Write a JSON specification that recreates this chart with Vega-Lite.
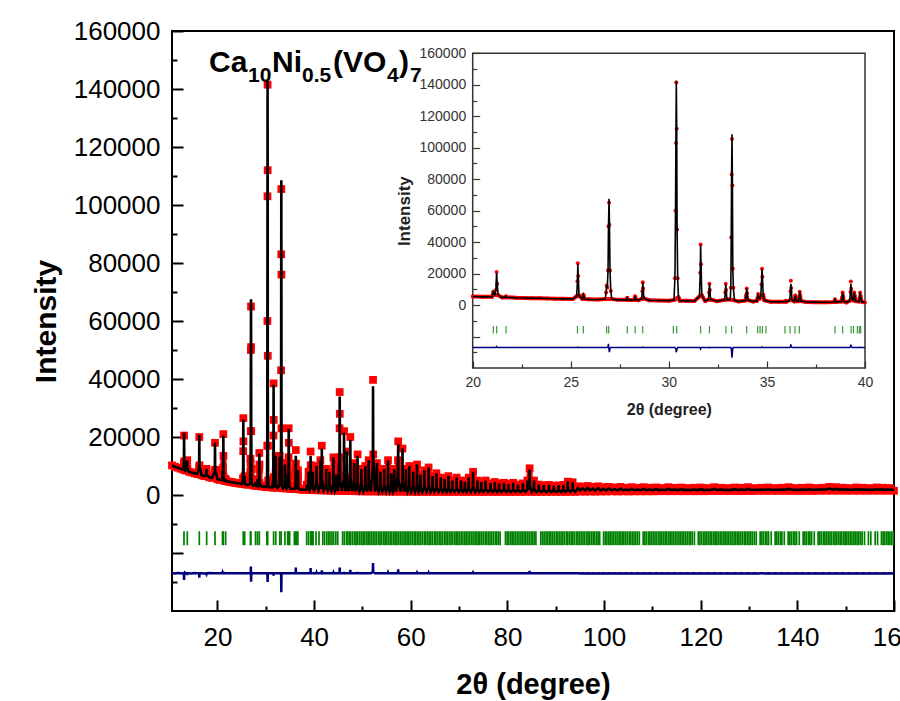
{
  "$schema": "https://vega.github.io/schema/vega-lite/v6.json",
  "width": 722,
  "height": 580,
  "autosize": {"type": "none"},
  "padding": {"left": 172, "top": 31, "right": 6, "bottom": 90},
  "background": "white",
  "config": {
    "view": {"stroke": "black", "strokeWidth": 2},
    "font": "Liberation Sans",
    "axis": {"grid": false}
  },
  "datasets": {
    "xrd": [
      {"t":10.6,"o":10200,"c":10200,"d":-27000},{"t":11.2,"o":9750,"c":9750,"d":-27100},{"t":11.8,"o":9420,"c":9420,"d":-26900},{"t":12.4,"o":9060,"c":9060,"d":-27000},{"t":13.0,"o":8700,"c":8700,"d":-27100},
      {"t":13.06,"o":11000,"c":11000,"d":-27000},{"t":13.1,"o":20500,"c":21500,"d":-29300},{"t":13.14,"o":11600,"c":11600,"d":-27000},{"t":13.4,"o":8460,"c":8460,"d":-26900},
      {"t":13.71,"o":9000,"c":9000,"d":-27000},{"t":13.75,"o":12000,"c":12000,"d":-27600},{"t":13.79,"o":9200,"c":9200,"d":-27000},{"t":14.1,"o":8050,"c":8050,"d":-27000},{"t":14.6,"o":7800,"c":7800,"d":-27100},{"t":15.2,"o":7500,"c":7500,"d":-26900},{"t":15.8,"o":7200,"c":7200,"d":-27000},
      {"t":16.21,"o":9600,"c":9600,"d":-27000},{"t":16.25,"o":20000,"c":20800,"d":-28500},{"t":16.29,"o":10250,"c":10250,"d":-27000},{"t":16.7,"o":6800,"c":6800,"d":-27000},{"t":17.3,"o":6520,"c":6520,"d":-27100},
      {"t":17.71,"o":6850,"c":6850,"d":-27000},{"t":17.75,"o":9000,"c":9000,"d":-27200},{"t":17.79,"o":7000,"c":7000,"d":-27000},{"t":18.3,"o":6100,"c":6100,"d":-26900},{"t":18.9,"o":5850,"c":5850,"d":-27000},
      {"t":19.46,"o":8100,"c":8100,"d":-27000},{"t":19.5,"o":18000,"c":18000,"d":-26600},{"t":19.54,"o":8700,"c":8700,"d":-27000},{"t":20.0,"o":5400,"c":5400,"d":-27000},
      {"t":20.5,"o":5220,"c":5220,"d":-27000},{"t":20.99,"o":5300,"c":5300,"d":-27000},{"t":21.03,"o":6800,"c":6800,"d":-26900},{"t":21.05,"o":8500,"c":8300,"d":-26800},{"t":21.08,"o":7400,"c":7400,"d":-27000},{"t":21.13,"o":6600,"c":6600,"d":-27000},
      {"t":21.18,"o":9500,"c":9500,"d":-27000},{"t":21.22,"o":21000,"c":20500,"d":-26400},{"t":21.25,"o":13500,"c":13500,"d":-27000},{"t":21.3,"o":6200,"c":6200,"d":-27000},{"t":21.5,"o":4870,"c":4870,"d":-27000},
      {"t":21.66,"o":4900,"c":4900,"d":-27000},{"t":21.7,"o":5500,"c":5500,"d":-27000},{"t":21.74,"o":4950,"c":4950,"d":-27000},{"t":22.2,"o":4640,"c":4640,"d":-27000},{"t":22.6,"o":4520,"c":4520,"d":-27000},{"t":23.0,"o":4400,"c":4400,"d":-27000},{"t":23.4,"o":4280,"c":4280,"d":-27000},{"t":23.8,"o":4160,"c":4160,"d":-27000},{"t":24.2,"o":4050,"c":4050,"d":-27000},{"t":24.6,"o":3950,"c":3950,"d":-27000},{"t":25.1,"o":3820,"c":3820,"d":-27000},
      {"t":25.3,"o":5600,"c":5600,"d":-27000},{"t":25.34,"o":15100,"c":15100,"d":-27000},{"t":25.36,"o":26500,"c":26000,"d":-26700},{"t":25.38,"o":18500,"c":18500,"d":-27000},{"t":25.42,"o":6000,"c":6000,"d":-27000},
      {"t":25.59,"o":3900,"c":3900,"d":-27000},{"t":25.62,"o":5100,"c":5100,"d":-27000},{"t":25.64,"o":6500,"c":6500,"d":-27000},{"t":25.66,"o":5800,"c":5800,"d":-27000},{"t":25.7,"o":3900,"c":3900,"d":-27000},{"t":25.9,"o":3620,"c":3620,"d":-27000},{"t":26.4,"o":3510,"c":3510,"d":-27000},
      {"t":26.76,"o":3900,"c":3900,"d":-27000},{"t":26.8,"o":8000,"c":8000,"d":-27000},{"t":26.83,"o":12500,"c":12500,"d":-27000},{"t":26.86,"o":11000,"c":11000,"d":-27000},{"t":26.9,"o":22000,"c":22000,"d":-26500},{"t":26.92,"o":50000,"c":47000,"d":-24700},
      {"t":26.95,"o":65000,"c":67500,"d":-28500},{"t":26.97,"o":51000,"c":54000,"d":-29900},{"t":27.0,"o":22000,"c":22000,"d":-27500},{"t":27.04,"o":9000,"c":9000,"d":-27000},{"t":27.09,"o":3800,"c":3800,"d":-27000},{"t":27.4,"o":3300,"c":3300,"d":-27000},
      {"t":27.84,"o":3300,"c":3300,"d":-27000},{"t":27.88,"o":4500,"c":4500,"d":-27000},{"t":27.92,"o":3350,"c":3350,"d":-27000},{"t":28.05,"o":3140,"c":3140,"d":-27000},{"t":28.24,"o":3300,"c":3300,"d":-27000},{"t":28.28,"o":5500,"c":5500,"d":-27000},{"t":28.32,"o":3400,"c":3400,"d":-27000},{"t":28.45,"o":3070,"c":3070,"d":-27000},
      {"t":28.61,"o":3960,"c":3960,"d":-27000},{"t":28.65,"o":8800,"c":8800,"d":-27000},{"t":28.67,"o":14500,"c":14200,"d":-26700},{"t":28.69,"o":10500,"c":10500,"d":-27000},{"t":28.73,"o":4200,"c":4200,"d":-27000},{"t":29.0,"o":2980,"c":2980,"d":-27000},{"t":29.5,"o":2890,"c":2890,"d":-27000},{"t":30.0,"o":2800,"c":2800,"d":-27000},
      {"t":30.26,"o":3200,"c":3200,"d":-27000},{"t":30.31,"o":17000,"c":17000,"d":-27000},{"t":30.34,"o":60000,"c":60000,"d":-27500},{"t":30.36,"o":103000,"c":104000,"d":-28200},{"t":30.38,"o":141500,"c":142500,"d":-30000},{"t":30.4,"o":112000,"c":113000,"d":-29000},
      {"t":30.42,"o":48000,"c":48000,"d":-27800},{"t":30.45,"o":17000,"c":17000,"d":-27000},{"t":30.49,"o":5000,"c":5000,"d":-27000},{"t":30.55,"o":2750,"c":2750,"d":-27000},{"t":30.9,"o":2660,"c":2660,"d":-27000},{"t":31.3,"o":2600,"c":2600,"d":-27000},
      {"t":31.56,"o":5400,"c":5400,"d":-27000},{"t":31.6,"o":20500,"c":20500,"d":-27200},{"t":31.62,"o":38500,"c":38000,"d":-27800},{"t":31.64,"o":25900,"c":25900,"d":-27000},{"t":31.68,"o":6150,"c":6150,"d":-27000},{"t":31.85,"o":2520,"c":2520,"d":-27000},
      {"t":32.01,"o":3370,"c":3370,"d":-27000},{"t":32.05,"o":8000,"c":8000,"d":-27000},{"t":32.07,"o":13500,"c":13500,"d":-27200},{"t":32.09,"o":9650,"c":9650,"d":-27000},{"t":32.13,"o":3590,"c":3590,"d":-27000},{"t":32.45,"o":2450,"c":2450,"d":-27000},
      {"t":32.84,"o":3280,"c":3280,"d":-27000},{"t":32.88,"o":7950,"c":7950,"d":-27000},{"t":32.9,"o":13500,"c":13200,"d":-27000},{"t":32.92,"o":9600,"c":9600,"d":-27000},{"t":32.96,"o":3500,"c":3500,"d":-27000},
      {"t":33.13,"o":3500,"c":3500,"d":-27000},{"t":33.16,"o":11000,"c":11000,"d":-27000},{"t":33.18,"o":43000,"c":43000,"d":-27500},{"t":33.2,"o":83000,"c":85000,"d":-30500},{"t":33.22,"o":105500,"c":108500,"d":-33500},{"t":33.24,"o":76000,"c":78000,"d":-30000},
      {"t":33.26,"o":23000,"c":23000,"d":-27500},{"t":33.29,"o":11000,"c":11000,"d":-27000},{"t":33.34,"o":3000,"c":3000,"d":-27000},{"t":33.55,"o":2320,"c":2320,"d":-27000},
      {"t":33.91,"o":2900,"c":2900,"d":-27000},{"t":33.95,"o":6400,"c":6400,"d":-27000},{"t":33.97,"o":10500,"c":10500,"d":-27000},{"t":33.99,"o":7600,"c":7600,"d":-27000},{"t":34.03,"o":3100,"c":3100,"d":-27000},{"t":34.3,"o":2210,"c":2210,"d":-27000},
      {"t":34.5,"o":2700,"c":2700,"d":-27000},{"t":34.53,"o":5000,"c":5000,"d":-27000},{"t":34.55,"o":7000,"c":7000,"d":-27000},{"t":34.58,"o":5000,"c":5000,"d":-27000},{"t":34.63,"o":4000,"c":4000,"d":-27000},
      {"t":34.68,"o":5000,"c":5000,"d":-27000},{"t":34.72,"o":13000,"c":13000,"d":-27000},{"t":34.75,"o":23000,"c":22800,"d":-26600},{"t":34.77,"o":18000,"c":18000,"d":-27000},{"t":34.81,"o":6500,"c":6500,"d":-27000},{"t":34.86,"o":3000,"c":3000,"d":-27000},
      {"t":35.2,"o":2100,"c":2100,"d":-27000},{"t":35.6,"o":2050,"c":2050,"d":-27000},{"t":35.91,"o":2100,"c":2100,"d":-27000},{"t":35.95,"o":2600,"c":2600,"d":-27000},{"t":35.99,"o":2100,"c":2100,"d":-27000},
      {"t":36.16,"o":3060,"c":3060,"d":-27000},{"t":36.2,"o":8700,"c":8700,"d":-26500},{"t":36.22,"o":15500,"c":13500,"d":-25000},{"t":36.24,"o":10800,"c":10800,"d":-26500},{"t":36.28,"o":3300,"c":3300,"d":-27000},
      {"t":36.39,"o":2300,"c":2300,"d":-27000},{"t":36.43,"o":4000,"c":4000,"d":-27000},{"t":36.45,"o":6000,"c":6000,"d":-27000},{"t":36.47,"o":4600,"c":4600,"d":-27000},{"t":36.51,"o":2400,"c":2400,"d":-27000},
      {"t":36.61,"o":2450,"c":2450,"d":-27000},{"t":36.65,"o":5200,"c":5200,"d":-27000},{"t":36.67,"o":8500,"c":8500,"d":-27000},{"t":36.69,"o":6200,"c":6200,"d":-27000},{"t":36.73,"o":2600,"c":2600,"d":-27000},
      {"t":37.0,"o":1900,"c":1900,"d":-27000},{"t":37.5,"o":1850,"c":1850,"d":-27000},{"t":38.0,"o":1800,"c":1800,"d":-27000},{"t":38.43,"o":1900,"c":1900,"d":-27000},{"t":38.47,"o":3500,"c":3500,"d":-27000},{"t":38.51,"o":2000,"c":2000,"d":-27000},
      {"t":38.8,"o":2200,"c":2200,"d":-27000},{"t":38.84,"o":4900,"c":4900,"d":-27000},{"t":38.86,"o":8000,"c":8000,"d":-27000},{"t":38.88,"o":5800,"c":5800,"d":-27000},{"t":38.92,"o":2300,"c":2300,"d":-27000},{"t":39.05,"o":1700,"c":1700,"d":-27000},
      {"t":39.22,"o":2700,"c":2700,"d":-27000},{"t":39.26,"o":8300,"c":8300,"d":-26600},{"t":39.28,"o":15000,"c":13500,"d":-25200},{"t":39.3,"o":10300,"c":10300,"d":-26500},{"t":39.34,"o":3500,"c":3500,"d":-27000},
      {"t":39.39,"o":3000,"c":3000,"d":-27000},{"t":39.43,"o":5000,"c":5000,"d":-27000},{"t":39.45,"o":8000,"c":8000,"d":-27000},{"t":39.47,"o":6000,"c":6000,"d":-27000},{"t":39.52,"o":2500,"c":2500,"d":-27000},
      {"t":39.69,"o":2200,"c":2200,"d":-27000},{"t":39.73,"o":4800,"c":4800,"d":-27000},{"t":39.75,"o":8000,"c":8000,"d":-26800},{"t":39.77,"o":5800,"c":5800,"d":-27000},{"t":39.82,"o":2200,"c":2200,"d":-27000},{"t":40.0,"o":1650,"c":1650,"d":-27000},
      {"t":40.46,"o":3300,"c":3300,"d":-27000},{"t":40.5,"o":10000,"c":10000,"d":-26800},{"t":40.54,"o":3700,"c":3700,"d":-27000},{"t":40.9,"o":1610,"c":1610,"d":-27000},
      {"t":41.26,"o":3600,"c":3600,"d":-27000},{"t":41.3,"o":12000,"c":12000,"d":-27000},{"t":41.34,"o":4200,"c":4200,"d":-27000},{"t":41.45,"o":2000,"c":2000,"d":-27000},
      {"t":41.56,"o":4600,"c":4600,"d":-27000},{"t":41.6,"o":17000,"c":16000,"d":-26000},{"t":41.64,"o":5400,"c":5400,"d":-27000},{"t":42.0,"o":1550,"c":1550,"d":-27000},
      {"t":42.46,"o":3000,"c":3000,"d":-27000},{"t":42.5,"o":9000,"c":9000,"d":-27000},{"t":42.54,"o":3400,"c":3400,"d":-27000},{"t":42.85,"o":1500,"c":1500,"d":-27000},
      {"t":43.16,"o":2800,"c":2800,"d":-27000},{"t":43.2,"o":8000,"c":8000,"d":-27000},{"t":43.24,"o":3100,"c":3100,"d":-27000},{"t":43.6,"o":1470,"c":1470,"d":-27000},
      {"t":43.96,"o":3700,"c":3700,"d":-27000},{"t":44.0,"o":13000,"c":13000,"d":-26800},{"t":44.04,"o":4300,"c":4300,"d":-27000},{"t":44.3,"o":1440,"c":1440,"d":-27000},
      {"t":44.56,"o":2500,"c":2500,"d":-27000},{"t":44.6,"o":7000,"c":7000,"d":-27000},{"t":44.64,"o":2800,"c":2800,"d":-27000},{"t":44.95,"o":1420,"c":1420,"d":-27000},
      {"t":45.25,"o":13000,"c":13000,"d":-27000},{"t":45.28,"o":23000,"c":23000,"d":-26500},{"t":45.3,"o":35500,"c":34000,"d":-25000},{"t":45.32,"o":28000,"c":28000,"d":-26500},{"t":45.36,"o":5000,"c":5000,"d":-27000},{"t":45.75,"o":1390,"c":1390,"d":-27000},
      {"t":46.16,"o":5500,"c":5500,"d":-27000},{"t":46.2,"o":22000,"c":21500,"d":-26500},{"t":46.24,"o":6500,"c":6500,"d":-27000},{"t":46.5,"o":1370,"c":1370,"d":-27000},
      {"t":46.76,"o":4000,"c":4000,"d":-27000},{"t":46.8,"o":15000,"c":15000,"d":-27000},{"t":46.84,"o":4700,"c":4700,"d":-27000},{"t":47.15,"o":1350,"c":1350,"d":-27000},
      {"t":47.46,"o":5000,"c":5000,"d":-27000},{"t":47.5,"o":20000,"c":19000,"d":-25800},{"t":47.54,"o":6000,"c":6000,"d":-27000},{"t":47.9,"o":1330,"c":1330,"d":-27000},
      {"t":48.26,"o":3200,"c":3200,"d":-27000},{"t":48.3,"o":11000,"c":11000,"d":-27000},{"t":48.34,"o":3700,"c":3700,"d":-27000},{"t":48.65,"o":1300,"c":1300,"d":-27000},
      {"t":48.96,"o":3800,"c":3800,"d":-27000},{"t":49.0,"o":14000,"c":13500,"d":-26500},{"t":49.04,"o":4400,"c":4400,"d":-27000},{"t":49.4,"o":1280,"c":1280,"d":-27000},
      {"t":49.76,"o":2800,"c":2800,"d":-27000},{"t":49.8,"o":9000,"c":9000,"d":-27000},{"t":49.84,"o":3200,"c":3200,"d":-27000},{"t":50.2,"o":1250,"c":1250,"d":-27000},
      {"t":50.56,"o":3000,"c":3000,"d":-27000},{"t":50.6,"o":10000,"c":10000,"d":-27000},{"t":50.64,"o":3400,"c":3400,"d":-27000},{"t":50.95,"o":1240,"c":1240,"d":-27000},
      {"t":51.26,"o":3400,"c":3400,"d":-27000},{"t":51.3,"o":12000,"c":12000,"d":-27000},{"t":51.34,"o":3900,"c":3900,"d":-27000},{"t":51.75,"o":1230,"c":1230,"d":-27000},
      {"t":52.16,"o":10000,"c":10000,"d":-26500},{"t":52.2,"o":39700,"c":37500,"d":-23500},{"t":52.24,"o":14000,"c":14000,"d":-26500},{"t":52.6,"o":1220,"c":1220,"d":-27000},
      {"t":52.96,"o":3200,"c":3200,"d":-27000},{"t":53.0,"o":11000,"c":11000,"d":-27000},{"t":53.04,"o":3700,"c":3700,"d":-27000},{"t":53.35,"o":1210,"c":1210,"d":-27000},
      {"t":53.66,"o":2600,"c":2600,"d":-27000},{"t":53.7,"o":8000,"c":8000,"d":-27000},{"t":53.74,"o":2900,"c":2900,"d":-27000},{"t":54.1,"o":1200,"c":1200,"d":-27000},
      {"t":54.46,"o":2800,"c":2800,"d":-27000},{"t":54.5,"o":9000,"c":9000,"d":-27000},{"t":54.54,"o":3200,"c":3200,"d":-27000},{"t":54.9,"o":1190,"c":1190,"d":-27000},
      {"t":55.26,"o":3300,"c":3300,"d":-27000},{"t":55.3,"o":12000,"c":12000,"d":-26800},{"t":55.34,"o":3900,"c":3900,"d":-27000},{"t":55.65,"o":1180,"c":1180,"d":-27000},
      {"t":55.96,"o":2400,"c":2400,"d":-27000},{"t":56.0,"o":7500,"c":7500,"d":-27000},{"t":56.04,"o":2800,"c":2800,"d":-27000},{"t":56.3,"o":1170,"c":1170,"d":-27000},
      {"t":56.56,"o":2700,"c":2700,"d":-27000},{"t":56.6,"o":9000,"c":9000,"d":-27000},{"t":56.64,"o":3100,"c":3100,"d":-27000},{"t":57.0,"o":1160,"c":1160,"d":-27000},
      {"t":57.34,"o":8000,"c":8000,"d":-27000},{"t":57.37,"o":12000,"c":12000,"d":-26800},{"t":57.4,"o":18500,"c":17500,"d":-25600},{"t":57.44,"o":5500,"c":5500,"d":-27000},{"t":57.85,"o":1150,"c":1150,"d":-27000},
      {"t":58.26,"o":4100,"c":4100,"d":-27000},{"t":58.3,"o":16000,"c":16000,"d":-26700},{"t":58.34,"o":4800,"c":4800,"d":-27000},{"t":58.65,"o":1140,"c":1140,"d":-27000},
      {"t":58.96,"o":2700,"c":2700,"d":-27000},{"t":59.0,"o":9000,"c":9000,"d":-27000},{"t":59.04,"o":3100,"c":3100,"d":-27000},{"t":59.35,"o":1130,"c":1130,"d":-27000},
      {"t":59.66,"o":2900,"c":2900,"d":-27000},{"t":59.7,"o":10000,"c":10000,"d":-27000},{"t":59.74,"o":3300,"c":3300,"d":-27000},{"t":60.1,"o":1100,"c":1100,"d":-27000},
      {"t":60.45,"o":2500,"c":2500,"d":-27000},{"t":60.5,"o":8000,"c":8000,"d":-27000},{"t":60.55,"o":2800,"c":2800,"d":-27000},{"t":60.9,"o":1100,"c":1100,"d":-27000},
      {"t":61.25,"o":3000,"c":3000,"d":-27000},{"t":61.3,"o":10500,"c":10500,"d":-26800},{"t":61.35,"o":3400,"c":3400,"d":-27000},{"t":61.65,"o":1100,"c":1100,"d":-27000},
      {"t":61.95,"o":2300,"c":2300,"d":-27000},{"t":62.0,"o":7000,"c":7000,"d":-27000},{"t":62.05,"o":2600,"c":2600,"d":-27000},{"t":62.4,"o":1100,"c":1100,"d":-27000},
      {"t":62.75,"o":2600,"c":2600,"d":-27000},{"t":62.8,"o":8500,"c":8500,"d":-27000},{"t":62.85,"o":2900,"c":2900,"d":-27000},{"t":63.25,"o":1095,"c":1095,"d":-27000},
      {"t":63.65,"o":2800,"c":2800,"d":-27000},{"t":63.7,"o":9500,"c":9500,"d":-26800},{"t":63.75,"o":3200,"c":3200,"d":-27000},{"t":64.1,"o":1095,"c":1095,"d":-27000},
      {"t":64.45,"o":2200,"c":2200,"d":-27000},{"t":64.5,"o":6500,"c":6500,"d":-27000},{"t":64.55,"o":2400,"c":2400,"d":-27000},{"t":64.9,"o":1090,"c":1090,"d":-27000},
      {"t":65.25,"o":2400,"c":2400,"d":-27000},{"t":65.3,"o":7500,"c":7500,"d":-27000},{"t":65.35,"o":2700,"c":2700,"d":-27000},{"t":65.75,"o":1090,"c":1090,"d":-27000},
      {"t":66.15,"o":2100,"c":2100,"d":-27000},{"t":66.2,"o":6000,"c":6000,"d":-27000},{"t":66.25,"o":2300,"c":2300,"d":-27000},{"t":66.6,"o":1085,"c":1085,"d":-27000},
      {"t":66.95,"o":2000,"c":2000,"d":-27000},{"t":67.0,"o":5500,"c":5500,"d":-27000},{"t":67.05,"o":2200,"c":2200,"d":-27000},{"t":67.4,"o":1085,"c":1085,"d":-27000},
      {"t":67.75,"o":2200,"c":2200,"d":-27000},{"t":67.8,"o":6500,"c":6500,"d":-27000},{"t":67.85,"o":2400,"c":2400,"d":-27000},{"t":68.2,"o":1080,"c":1080,"d":-27000},
      {"t":68.55,"o":1900,"c":1900,"d":-27000},{"t":68.6,"o":5000,"c":5000,"d":-27000},{"t":68.65,"o":2100,"c":2100,"d":-27000},{"t":69.05,"o":1080,"c":1080,"d":-27000},
      {"t":69.45,"o":2100,"c":2100,"d":-27000},{"t":69.5,"o":6000,"c":6000,"d":-27000},{"t":69.55,"o":2300,"c":2300,"d":-27000},{"t":69.95,"o":1075,"c":1075,"d":-27000},
      {"t":70.35,"o":1900,"c":1900,"d":-27000},{"t":70.4,"o":5000,"c":5000,"d":-27000},{"t":70.45,"o":2100,"c":2100,"d":-27000},{"t":70.8,"o":1070,"c":1070,"d":-27000},
      {"t":71.15,"o":1800,"c":1800,"d":-27000},{"t":71.2,"o":4500,"c":4500,"d":-27000},{"t":71.25,"o":1900,"c":1900,"d":-27000},{"t":71.6,"o":1070,"c":1070,"d":-27000},
      {"t":71.95,"o":2100,"c":2100,"d":-27000},{"t":72.0,"o":6000,"c":6000,"d":-27000},{"t":72.05,"o":2300,"c":2300,"d":-27000},{"t":72.45,"o":1065,"c":1065,"d":-27000},
      {"t":72.85,"o":2500,"c":2500,"d":-27000},{"t":72.9,"o":8000,"c":8000,"d":-26800},{"t":72.95,"o":2800,"c":2800,"d":-27000},{"t":73.35,"o":1065,"c":1065,"d":-27000},
      {"t":73.75,"o":1900,"c":1900,"d":-27000},{"t":73.8,"o":5000,"c":5000,"d":-27000},{"t":73.85,"o":2100,"c":2100,"d":-27000},{"t":74.2,"o":1060,"c":1060,"d":-27000},
      {"t":74.55,"o":1800,"c":1800,"d":-27000},{"t":74.6,"o":4500,"c":4500,"d":-27000},{"t":74.65,"o":1900,"c":1900,"d":-27000},{"t":75.05,"o":1060,"c":1060,"d":-27000},
      {"t":75.45,"o":1900,"c":1900,"d":-27000},{"t":75.5,"o":5000,"c":5000,"d":-27000},{"t":75.55,"o":2100,"c":2100,"d":-27000},{"t":76.0,"o":1060,"c":1060,"d":-27000},
      {"t":76.45,"o":1700,"c":1700,"d":-27000},{"t":76.5,"o":4000,"c":4000,"d":-27000},{"t":76.55,"o":1800,"c":1800,"d":-27000},{"t":76.95,"o":1055,"c":1055,"d":-27000},
      {"t":77.35,"o":1800,"c":1800,"d":-27000},{"t":77.4,"o":4500,"c":4500,"d":-27000},{"t":77.45,"o":1900,"c":1900,"d":-27000},{"t":77.85,"o":1055,"c":1055,"d":-27000},
      {"t":78.25,"o":1700,"c":1700,"d":-27000},{"t":78.3,"o":4000,"c":4000,"d":-27000},{"t":78.35,"o":1800,"c":1800,"d":-27000},{"t":78.8,"o":1050,"c":1050,"d":-27000},
      {"t":79.25,"o":1700,"c":1700,"d":-27000},{"t":79.3,"o":4200,"c":4200,"d":-27000},{"t":79.35,"o":1900,"c":1900,"d":-27000},{"t":79.75,"o":1050,"c":1050,"d":-27000},
      {"t":80.15,"o":1600,"c":1600,"d":-27000},{"t":80.2,"o":3800,"c":3800,"d":-27000},{"t":80.25,"o":1700,"c":1700,"d":-27000},{"t":80.7,"o":1050,"c":1050,"d":-27000},
      {"t":81.15,"o":1700,"c":1700,"d":-27000},{"t":81.2,"o":4200,"c":4200,"d":-27000},{"t":81.25,"o":1900,"c":1900,"d":-27000},{"t":81.7,"o":1050,"c":1050,"d":-27000},
      {"t":82.15,"o":1600,"c":1600,"d":-27000},{"t":82.2,"o":3600,"c":3600,"d":-27000},{"t":82.25,"o":1700,"c":1700,"d":-27000},{"t":82.7,"o":1050,"c":1050,"d":-27000},
      {"t":83.15,"o":1600,"c":1600,"d":-27000},{"t":83.2,"o":4000,"c":4000,"d":-27000},{"t":83.25,"o":1800,"c":1800,"d":-27000},{"t":83.7,"o":1050,"c":1050,"d":-27000},
      {"t":84.1,"o":1800,"c":1800,"d":-27000},{"t":84.15,"o":5000,"c":5000,"d":-27000},{"t":84.2,"o":2000,"c":2000,"d":-27000},
      {"t":84.55,"o":2700,"c":2700,"d":-27000},{"t":84.6,"o":9200,"c":8800,"d":-26200},{"t":84.65,"o":3100,"c":3100,"d":-27000},{"t":85.05,"o":1050,"c":1050,"d":-27000},
      {"t":85.45,"o":1900,"c":1900,"d":-27000},{"t":85.5,"o":5000,"c":5000,"d":-27000},{"t":85.55,"o":2000,"c":2000,"d":-27000},{"t":86.0,"o":1055,"c":1055,"d":-27000},
      {"t":86.45,"o":1600,"c":1600,"d":-27000},{"t":86.5,"o":3600,"c":3600,"d":-27000},{"t":86.55,"o":1700,"c":1700,"d":-27000},{"t":87.0,"o":1055,"c":1055,"d":-27000},
      {"t":87.45,"o":1500,"c":1500,"d":-27000},{"t":87.5,"o":3400,"c":3400,"d":-27000},{"t":87.55,"o":1600,"c":1600,"d":-27000},{"t":88.05,"o":1060,"c":1060,"d":-27000},
      {"t":88.55,"o":1600,"c":1600,"d":-27000},{"t":88.6,"o":3500,"c":3500,"d":-27000},{"t":88.65,"o":1600,"c":1600,"d":-27000},{"t":89.1,"o":1060,"c":1060,"d":-27000},
      {"t":89.55,"o":1500,"c":1500,"d":-27000},{"t":89.6,"o":3200,"c":3200,"d":-27000},{"t":89.65,"o":1500,"c":1500,"d":-27000},{"t":90.1,"o":1065,"c":1065,"d":-27000},
      {"t":90.55,"o":1500,"c":1500,"d":-27000},{"t":90.6,"o":3300,"c":3300,"d":-27000},{"t":90.65,"o":1600,"c":1600,"d":-27000},{"t":91.1,"o":1065,"c":1065,"d":-27000},
      {"t":91.55,"o":1600,"c":1600,"d":-27000},{"t":91.6,"o":3500,"c":3500,"d":-27000},{"t":91.65,"o":1600,"c":1600,"d":-27000},{"t":92.05,"o":1070,"c":1070,"d":-27000},
      {"t":92.45,"o":1800,"c":1800,"d":-27000},{"t":92.5,"o":4600,"c":4600,"d":-27000},{"t":92.55,"o":1900,"c":1900,"d":-27000},{"t":93.0,"o":1070,"c":1070,"d":-27000},
      {"t":93.45,"o":1800,"c":1800,"d":-27000},{"t":93.5,"o":4400,"c":4400,"d":-27000},{"t":93.55,"o":1900,"c":1900,"d":-27000},{"t":94.05,"o":1075,"c":1075,"d":-27000},
      {"t":94.6,"o":3000,"c":2400,"d":-26950},{"t":95.0,"o":1200,"c":1600,"d":-27050},{"t":95.6,"o":2900,"c":2300,"d":-26950},{"t":96.1,"o":1150,"c":1550,"d":-27050},{"t":96.6,"o":3100,"c":2500,"d":-26950},{"t":97.1,"o":1200,"c":1600,"d":-27050},
      {"t":97.7,"o":2800,"c":2200,"d":-26950},{"t":98.2,"o":1150,"c":1550,"d":-27050},{"t":98.8,"o":3000,"c":2400,"d":-26950},{"t":99.3,"o":1200,"c":1600,"d":-27050},{"t":99.9,"o":2700,"c":2100,"d":-26950},{"t":100.4,"o":1200,"c":1600,"d":-27050},
      {"t":101.0,"o":2800,"c":2200,"d":-26950},{"t":101.6,"o":1250,"c":1650,"d":-27050},{"t":102.2,"o":2600,"c":2000,"d":-26950},{"t":102.8,"o":1200,"c":1600,"d":-27050},{"t":103.4,"o":2800,"c":2200,"d":-26950},{"t":103.9,"o":1250,"c":1650,"d":-27050},
      {"t":104.5,"o":2500,"c":1900,"d":-26950},{"t":105.1,"o":1200,"c":1600,"d":-27050},{"t":105.7,"o":2700,"c":2100,"d":-26950},{"t":106.3,"o":1250,"c":1650,"d":-27050},{"t":107.0,"o":2500,"c":1900,"d":-26950},{"t":107.6,"o":1250,"c":1650,"d":-27050},
      {"t":108.2,"o":2700,"c":2100,"d":-26950},{"t":108.8,"o":1250,"c":1650,"d":-27050},{"t":109.5,"o":2500,"c":1900,"d":-26950},{"t":110.1,"o":1250,"c":1650,"d":-27050},{"t":110.8,"o":2600,"c":2000,"d":-26950},{"t":111.4,"o":1300,"c":1700,"d":-27050},
      {"t":112.0,"o":2400,"c":1800,"d":-26950},{"t":112.7,"o":1300,"c":1700,"d":-27050},{"t":113.3,"o":2700,"c":2100,"d":-26950},{"t":113.9,"o":1300,"c":1700,"d":-27050},{"t":114.6,"o":2500,"c":1900,"d":-26950},{"t":115.3,"o":1300,"c":1700,"d":-27050},
      {"t":116.0,"o":2600,"c":2000,"d":-26950},{"t":116.6,"o":1300,"c":1700,"d":-27050},{"t":117.3,"o":2400,"c":1800,"d":-26950},{"t":117.9,"o":1300,"c":1700,"d":-27050},{"t":118.6,"o":2500,"c":1900,"d":-26950},{"t":119.3,"o":1300,"c":1700,"d":-27050},
      {"t":120.0,"o":2600,"c":2000,"d":-26950},{"t":120.7,"o":1300,"c":1700,"d":-27050},{"t":121.4,"o":2400,"c":1800,"d":-26950},{"t":122.1,"o":1350,"c":1750,"d":-27050},{"t":122.8,"o":2700,"c":2100,"d":-26950},{"t":123.5,"o":1350,"c":1750,"d":-27050},
      {"t":124.2,"o":2500,"c":1900,"d":-26950},{"t":124.9,"o":1350,"c":1750,"d":-27050},{"t":125.6,"o":2400,"c":1800,"d":-26950},{"t":126.3,"o":1350,"c":1750,"d":-27050},{"t":127.0,"o":2600,"c":2000,"d":-26950},{"t":127.7,"o":1350,"c":1750,"d":-27050},
      {"t":128.4,"o":2500,"c":1900,"d":-26950},{"t":129.1,"o":1350,"c":1750,"d":-27050},{"t":129.8,"o":2700,"c":2100,"d":-26950},{"t":130.5,"o":1350,"c":1750,"d":-27050},{"t":131.2,"o":2400,"c":1800,"d":-26950},{"t":131.9,"o":1400,"c":1800,"d":-27050},
      {"t":132.6,"o":2500,"c":1900,"d":-26950},{"t":133.3,"o":1400,"c":1800,"d":-27050},{"t":134.0,"o":2600,"c":2000,"d":-26950},{"t":134.7,"o":1400,"c":1800,"d":-27050},{"t":135.4,"o":2400,"c":1800,"d":-26950},{"t":136.1,"o":1400,"c":1800,"d":-27050},
      {"t":136.8,"o":2500,"c":1900,"d":-26950},{"t":137.5,"o":1400,"c":1800,"d":-27050},{"t":138.2,"o":2700,"c":2100,"d":-26950},{"t":138.9,"o":1400,"c":1800,"d":-27050},{"t":139.6,"o":2400,"c":1800,"d":-26950},{"t":140.3,"o":1400,"c":1800,"d":-27050},
      {"t":141.0,"o":2500,"c":1900,"d":-26950},{"t":141.7,"o":1400,"c":1800,"d":-27050},{"t":142.4,"o":2600,"c":2000,"d":-26950},{"t":143.1,"o":1400,"c":1800,"d":-27050},{"t":143.8,"o":2400,"c":1800,"d":-26950},{"t":144.5,"o":1450,"c":1850,"d":-27050},
      {"t":145.2,"o":2500,"c":1900,"d":-26950},{"t":145.9,"o":1450,"c":1850,"d":-27050},{"t":146.6,"o":2800,"c":2200,"d":-26950},{"t":147.3,"o":1450,"c":1850,"d":-27050},{"t":148.0,"o":2700,"c":2100,"d":-26950},{"t":148.7,"o":1450,"c":1850,"d":-27050},
      {"t":149.4,"o":2500,"c":1900,"d":-26950},{"t":150.1,"o":1450,"c":1850,"d":-27050},{"t":150.8,"o":2400,"c":1800,"d":-26950},{"t":151.5,"o":1450,"c":1850,"d":-27050},{"t":152.2,"o":2600,"c":2000,"d":-26950},{"t":152.9,"o":1450,"c":1850,"d":-27050},
      {"t":153.6,"o":2500,"c":1900,"d":-26950},{"t":154.3,"o":1450,"c":1850,"d":-27050},{"t":155.0,"o":2400,"c":1800,"d":-26950},{"t":155.7,"o":1450,"c":1850,"d":-27050},{"t":156.4,"o":2600,"c":2000,"d":-26950},{"t":157.1,"o":1450,"c":1850,"d":-27050},
      {"t":157.8,"o":2500,"c":1900,"d":-26950},{"t":158.5,"o":1450,"c":1850,"d":-27050},{"t":159.2,"o":2400,"c":1800,"d":-26950},{"t":160.0,"o":1450,"c":1850,"d":-27050}
    ],
    "bragg": [
      {"b":13.08},{"b":13.77},{"b":16.25},{"b":17.77},{"b":19.5},{"b":21.05},{"b":21.22},{"b":21.7},{"b":25.34},{"b":25.64},{"b":26.83},{"b":26.93},{"b":27.88},{"b":28.28},{"b":28.67},{"b":30.23},{"b":30.4},{"b":31.62},{"b":32.07},{"b":32.91},{"b":33.2},{"b":33.97},{"b":34.53},{"b":34.65},{"b":34.77},{"b":34.95},{"b":35.92},{"b":36.18},{"b":36.43},{"b":36.65},{"b":38.47},{"b":38.86},{"b":39.29},{"b":39.41},{"b":39.61},{"b":39.71},{"b":39.78},
      {"b":40.4},{"b":41.02},{"b":41.8},{"b":42.15},{"b":42.6},{"b":42.95},{"b":43.3},{"b":43.7},{"b":44.05},{"b":44.5},{"b":44.9},{"b":45.9},{"b":46.25},{"b":46.7},{"b":47.0},{"b":47.35},{"b":47.6},{"b":48.0},{"b":48.4},{"b":48.7},{"b":49.05},{"b":49.45},{"b":49.8},{"b":50.15},{"b":50.5},{"b":50.9},{"b":51.2},{"b":51.55},{"b":51.9},{"b":52.25},{"b":52.6},{"b":52.95},{"b":53.35},{"b":53.65},{"b":54.0},{"b":54.4},{"b":54.7},{"b":55.05},{"b":55.4},{"b":55.75},{"b":56.1},{"b":56.5},{"b":56.8},{"b":57.15},{"b":57.5},{"b":57.85},{"b":58.2},{"b":58.6},{"b":58.9},{"b":59.25},{"b":59.6},{"b":59.95},
      {"b":60.3},{"b":60.7},{"b":61.0},{"b":61.35},{"b":61.7},{"b":62.05},{"b":62.4},{"b":62.8},{"b":63.1},{"b":63.45},{"b":63.8},{"b":64.15},{"b":64.5},{"b":64.9},{"b":65.2},{"b":65.55},{"b":65.9},{"b":66.25},{"b":66.6},{"b":67.0},{"b":67.3},{"b":67.65},{"b":68.0},{"b":68.35},{"b":68.7},{"b":69.1},{"b":69.4},{"b":69.75},{"b":70.1},{"b":70.45},{"b":70.8},{"b":71.2},{"b":71.5},{"b":71.85},{"b":72.2},{"b":72.55},{"b":72.9},{"b":73.3},{"b":73.6},{"b":73.95},{"b":74.3},{"b":74.65},{"b":75.0},{"b":75.4},{"b":75.7},{"b":76.05},{"b":76.4},{"b":76.75},{"b":77.1},{"b":77.5},{"b":77.8},{"b":78.15},{"b":78.5},
      {"b":79.6},{"b":79.95},{"b":80.3},{"b":80.7},{"b":81.0},{"b":81.35},{"b":81.7},{"b":82.05},{"b":82.4},{"b":82.8},{"b":83.1},{"b":83.45},{"b":83.8},{"b":84.15},{"b":84.5},{"b":84.9},{"b":85.2},{"b":85.55},{"b":85.9},
      {"b":86.9},{"b":87.25},{"b":87.6},{"b":88.0},{"b":88.3},{"b":88.65},{"b":89.0},{"b":89.35},{"b":89.7},{"b":90.1},{"b":90.4},{"b":90.75},{"b":91.1},{"b":91.45},{"b":91.8},{"b":92.2},{"b":92.5},{"b":92.85},{"b":93.2},{"b":93.55},{"b":93.9},{"b":94.3},{"b":94.6},{"b":94.95},{"b":95.3},{"b":95.65},{"b":96.0},{"b":96.4},{"b":96.7},{"b":97.05},{"b":97.4},{"b":97.75},{"b":98.1},{"b":98.5},{"b":98.8},{"b":99.1},
      {"b":99.9},{"b":100.25},{"b":100.6},{"b":101.0},{"b":101.3},{"b":101.65},{"b":102.0},{"b":102.35},{"b":102.7},{"b":103.1},{"b":103.4},{"b":103.75},{"b":104.1},{"b":104.45},{"b":104.8},{"b":105.2},{"b":105.5},{"b":105.85},{"b":106.2},{"b":106.55},{"b":106.9},{"b":107.3},
      {"b":108.1},{"b":108.45},{"b":108.8},{"b":109.2},{"b":109.5},{"b":109.85},{"b":110.2},{"b":110.55},{"b":110.9},{"b":111.3},{"b":111.6},{"b":111.95},{"b":112.3},{"b":112.65},{"b":113.0},{"b":113.4},{"b":113.7},{"b":114.05},{"b":114.4},{"b":114.75},{"b":115.1},{"b":115.5},{"b":115.8},{"b":116.15},{"b":116.5},{"b":116.85},{"b":117.2},{"b":117.6},{"b":117.9},{"b":118.25},{"b":118.7},
      {"b":119.5},{"b":119.85},{"b":120.2},{"b":120.6},{"b":120.9},{"b":121.25},{"b":121.6},{"b":121.95},{"b":122.3},{"b":122.7},{"b":123.0},{"b":123.35},{"b":123.7},{"b":124.05},{"b":124.4},{"b":124.8},{"b":125.1},{"b":125.45},{"b":125.8},{"b":126.15},{"b":126.5},{"b":126.9},{"b":127.2},{"b":127.55},{"b":127.9},{"b":128.25},{"b":128.6},{"b":129.0},{"b":129.3},{"b":129.65},{"b":130.0},{"b":130.35},{"b":130.7},{"b":131.1},{"b":131.5},
      {"b":132.3},{"b":132.65},{"b":133.0},{"b":133.4},{"b":133.7},{"b":134.05},{"b":134.6},{"b":135.4},{"b":135.75},{"b":136.1},{"b":136.5},{"b":136.8},{"b":137.3},{"b":138.1},{"b":138.45},{"b":138.8},{"b":139.2},{"b":139.5},{"b":139.85},{"b":140.4},
      {"b":141.2},{"b":141.55},{"b":141.9},{"b":142.3},{"b":142.6},{"b":142.95},{"b":143.5},{"b":144.3},{"b":144.65},{"b":145.0},{"b":145.4},{"b":145.7},{"b":146.05},{"b":146.4},{"b":146.75},{"b":147.1},{"b":147.5},{"b":147.8},{"b":148.15},{"b":148.5},{"b":148.85},{"b":149.2},{"b":149.6},{"b":149.9},{"b":150.25},{"b":150.6},{"b":150.95},{"b":151.3},{"b":151.7},{"b":152.0},{"b":152.35},{"b":152.7},{"b":153.05},{"b":153.4},{"b":153.9},
      {"b":154.7},{"b":155.2},{"b":156.1},{"b":156.6},{"b":157.4},{"b":157.75},{"b":158.1},{"b":158.5},{"b":158.8},{"b":159.15},{"b":159.5},{"b":159.85}
    ],
    "label": [
      {"s":"Ca","t":18.26,"v":146000,"k":"n"},{"s":"10","t":26.33,"v":142500,"k":"s"},{"s":"Ni","t":31.29,"v":146000,"k":"n"},{"s":"0.5","t":37.5,"v":142500,"k":"s"},
      {"s":"(VO","t":43.92,"v":146000,"k":"n"},{"s":"4","t":55.09,"v":142500,"k":"s"},{"s":")","t":57.57,"v":146000,"k":"n"},{"s":"7","t":59.85,"v":142500,"k":"s"}
    ]
  },
  "layer": [
    {
      "data": {"name": "xrd"},
      "transform": [{"filter": "datum.o < 14000"}],
      "mark": {"type": "line", "color": "#ff0000", "strokeWidth": 6, "strokeJoin": "round"},
      "encoding": {
        "x": {"field": "t", "type": "quantitative", "scale": {"domain": [10.6, 160], "nice": false, "zero": false},
          "axis": {"orient": "bottom", "values": [20,30,40,50,60,70,80,90,100,110,120,130,140,150,160],
            "labelExpr": "datum.value % 20 === 0 ? datum.label : ''",
            "tickSize": -11,
            "tickDash": {"condition": {"test": "datum.value % 20 === 0", "value": [100, 1]}, "value": [5, 100]},
            "tickWidth": 2, "tickColor": "black", "domain": false, "grid": false,
            "labelFontSize": 26, "labelColor": "black", "labelPadding": 24, "labelOverlap": false, "labelFlush": false, "labelBound": false,
            "title": "2θ (degree)", "titleFontSize": 29, "titleFontWeight": "bold", "titleColor": "black", "titlePadding": 20}},
        "y": {"field": "o", "type": "quantitative", "scale": {"domain": [-40000, 160000], "nice": false, "zero": false},
          "axis": {"orient": "left", "values": [-30000,-20000,-10000,0,10000,20000,30000,40000,50000,60000,70000,80000,90000,100000,110000,120000,130000,140000,150000,160000],
            "format": "d",
            "labelExpr": "datum.value >= 0 && datum.value % 20000 === 0 ? datum.label : ''",
            "tickSize": -11,
            "tickDash": {"condition": {"test": "datum.value % 20000 === 0", "value": [100, 1]}, "value": [5, 100]},
            "tickWidth": 2, "tickColor": "black", "domain": false, "grid": false,
            "labelFontSize": 26, "labelColor": "black", "labelPadding": 23, "labelOverlap": false, "labelFlush": false, "labelBound": false,
            "title": "Intensity", "titleFontSize": 30, "titleFontWeight": "bold", "titleColor": "black", "titlePadding": 12}}
      }
    },
    {
      "data": {"name": "xrd"},
      "mark": {"type": "point", "shape": "square", "filled": true, "color": "#ff0000", "size": 60, "opacity": 1},
      "encoding": {
        "x": {"field": "t", "type": "quantitative", "scale": {"domain": [10.6, 160], "nice": false, "zero": false}, "axis": null},
        "y": {"field": "o", "type": "quantitative", "scale": {"domain": [-40000, 160000], "nice": false, "zero": false}, "axis": null}
      }
    },
    {
      "data": {"name": "xrd"},
      "mark": {"type": "line", "color": "#000000", "strokeWidth": 2.6},
      "encoding": {
        "x": {"field": "t", "type": "quantitative", "scale": {"domain": [10.6, 160], "nice": false, "zero": false}, "axis": null},
        "y": {"field": "c", "type": "quantitative", "scale": {"domain": [-40000, 160000], "nice": false, "zero": false}, "axis": null}
      }
    },
    {
      "data": {"name": "bragg"},
      "mark": {"type": "rule", "color": "#008000", "strokeWidth": 1.7},
      "encoding": {
        "x": {"field": "b", "type": "quantitative", "scale": {"domain": [10.6, 160], "nice": false, "zero": false}, "axis": null},
        "y": {"datum": -12500, "type": "quantitative", "scale": {"domain": [-40000, 160000], "nice": false, "zero": false}, "axis": null},
        "y2": {"datum": -17300}
      }
    },
    {
      "data": {"name": "xrd"},
      "mark": {"type": "line", "color": "#00007f", "strokeWidth": 2.5},
      "encoding": {
        "x": {"field": "t", "type": "quantitative", "scale": {"domain": [10.6, 160], "nice": false, "zero": false}, "axis": null},
        "y": {"field": "d", "type": "quantitative", "scale": {"domain": [-40000, 160000], "nice": false, "zero": false}, "axis": null}
      }
    },
    {
      "data": {"name": "label"},
      "transform": [{"filter": "datum.k === 'n'"}],
      "mark": {"type": "text", "align": "left", "baseline": "alphabetic", "fontSize": 30, "fontWeight": "bold", "color": "black", "font": "Liberation Sans"},
      "encoding": {
        "x": {"field": "t", "type": "quantitative", "scale": {"domain": [10.6, 160], "nice": false, "zero": false}, "axis": null},
        "y": {"field": "v", "type": "quantitative", "scale": {"domain": [-40000, 160000], "nice": false, "zero": false}, "axis": null},
        "text": {"field": "s"}
      }
    },
    {
      "data": {"name": "label"},
      "transform": [{"filter": "datum.k === 's'"}],
      "mark": {"type": "text", "align": "left", "baseline": "alphabetic", "fontSize": 21, "fontWeight": "bold", "color": "black", "font": "Liberation Sans"},
      "encoding": {
        "x": {"field": "t", "type": "quantitative", "scale": {"domain": [10.6, 160], "nice": false, "zero": false}, "axis": null},
        "y": {"field": "v", "type": "quantitative", "scale": {"domain": [-40000, 160000], "nice": false, "zero": false}, "axis": null},
        "text": {"field": "s"}
      }
    },
    {
      "data": {"values": [{}]},
      "mark": {"type": "rect", "fill": "white", "stroke": "#333333", "strokeWidth": 1.5},
      "encoding": {
        "x": {"datum": 20, "type": "quantitative", "scale": {"domain": [20, 40], "range": [300.7, 693], "nice": false, "zero": false},
          "axis": {"orient": "bottom", "offset": -243, "zindex": 1, "values": [20,22.5,25,27.5,30,32.5,35,37.5,40],
            "labelExpr": "datum.value % 5 === 0 ? datum.label : ''",
            "tickSize": -7,
            "tickDash": {"condition": {"test": "datum.value % 5 === 0", "value": [100, 1]}, "value": [4, 100]},
            "tickWidth": 1.2, "tickColor": "#333333", "domain": false, "grid": false,
            "labelFontSize": 14, "labelColor": "#333333", "labelPadding": 14, "labelOverlap": false, "labelFlush": false, "labelBound": false,
            "title": "2θ (degree)", "titleFontSize": 16, "titleFontWeight": "bold", "titleColor": "#222222", "titlePadding": 12}},
        "x2": {"datum": 40},
        "y": {"datum": -40000, "type": "quantitative", "scale": {"domain": [-40000, 160000], "range": [337, 22.3], "nice": false, "zero": false},
          "axis": {"orient": "left", "offset": -300.7, "zindex": 1, "values": [-30000,-20000,-10000,0,10000,20000,30000,40000,50000,60000,70000,80000,90000,100000,110000,120000,130000,140000,150000,160000],
            "format": "d",
            "labelExpr": "datum.value >= 0 && datum.value % 20000 === 0 ? datum.label : ''",
            "tickSize": -7,
            "tickDash": {"condition": {"test": "datum.value % 20000 === 0", "value": [100, 1]}, "value": [4, 100]},
            "tickWidth": 1.2, "tickColor": "#333333", "domain": false, "grid": false,
            "labelFontSize": 14, "labelColor": "#333333", "labelPadding": 14, "labelOverlap": false, "labelFlush": false, "labelBound": false,
            "title": "Intensity", "titleFontSize": 17, "titleFontWeight": "bold", "titleColor": "#222222", "titlePadding": 5}},
        "y2": {"datum": 160000}
      }
    },
    {
      "data": {"name": "xrd"},
      "transform": [{"filter": "datum.t >= 20 && datum.t <= 40 && datum.o < 7000"}],
      "mark": {"type": "line", "color": "#ff0000", "strokeWidth": 4, "strokeJoin": "round"},
      "encoding": {
        "x": {"field": "t", "type": "quantitative", "scale": {"domain": [20, 40], "range": [300.7, 693], "nice": false, "zero": false}, "axis": null},
        "y": {"field": "o", "type": "quantitative", "scale": {"domain": [-40000, 160000], "range": [337, 22.3], "nice": false, "zero": false}, "axis": null}
      }
    },
    {
      "data": {"name": "xrd"},
      "transform": [{"filter": "datum.t >= 20 && datum.t <= 40"}],
      "mark": {"type": "point", "shape": "circle", "filled": true, "color": "#ff0000", "size": 16, "opacity": 1},
      "encoding": {
        "x": {"field": "t", "type": "quantitative", "scale": {"domain": [20, 40], "range": [300.7, 693], "nice": false, "zero": false}, "axis": null},
        "y": {"field": "o", "type": "quantitative", "scale": {"domain": [-40000, 160000], "range": [337, 22.3], "nice": false, "zero": false}, "axis": null}
      }
    },
    {
      "data": {"name": "xrd"},
      "transform": [{"filter": "datum.t >= 20 && datum.t <= 40"}],
      "mark": {"type": "line", "color": "#000000", "strokeWidth": 1.6},
      "encoding": {
        "x": {"field": "t", "type": "quantitative", "scale": {"domain": [20, 40], "range": [300.7, 693], "nice": false, "zero": false}, "axis": null},
        "y": {"field": "c", "type": "quantitative", "scale": {"domain": [-40000, 160000], "range": [337, 22.3], "nice": false, "zero": false}, "axis": null}
      }
    },
    {
      "data": {"name": "bragg"},
      "transform": [{"filter": "datum.b >= 20 && datum.b <= 40"}],
      "mark": {"type": "rule", "color": "#3a9a3a", "strokeWidth": 1.2},
      "encoding": {
        "x": {"field": "b", "type": "quantitative", "scale": {"domain": [20, 40], "range": [300.7, 693], "nice": false, "zero": false}, "axis": null},
        "y": {"datum": -13300, "type": "quantitative", "scale": {"domain": [-40000, 160000], "range": [337, 22.3], "nice": false, "zero": false}, "axis": null},
        "y2": {"datum": -18000}
      }
    },
    {
      "data": {"name": "xrd"},
      "transform": [{"filter": "datum.t >= 20 && datum.t <= 40"}],
      "mark": {"type": "line", "color": "#00007f", "strokeWidth": 1.5},
      "encoding": {
        "x": {"field": "t", "type": "quantitative", "scale": {"domain": [20, 40], "range": [300.7, 693], "nice": false, "zero": false}, "axis": null},
        "y": {"field": "d", "type": "quantitative", "scale": {"domain": [-40000, 160000], "range": [337, 22.3], "nice": false, "zero": false}, "axis": null}
      }
    }
  ],
  "resolve": {"scale": {"x": "independent", "y": "independent"}, "axis": {"x": "independent", "y": "independent"}}
}
